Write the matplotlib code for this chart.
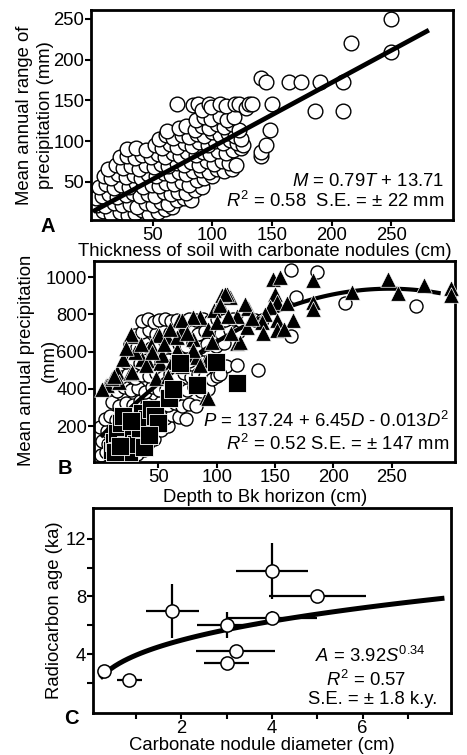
#!/usr/bin/env python3
"""Three-panel soil carbonate figure: nodule thickness, Bk depth, nodule size."""

import numpy as np
import matplotlib
matplotlib.use("Agg")
import matplotlib.pyplot as plt

plt.rcParams["font.family"] = ["Liberation Sans", "DejaVu Sans"]
plt.rcParams["mathtext.fontset"] = "custom"
plt.rcParams["mathtext.rm"] = "Liberation Sans"
plt.rcParams["mathtext.it"] = "Liberation Sans:italic"

FS = 13.3

# ---- panel A: thickness of soil with nodules (cm) vs range of precipitation (mm)
a_pts = [
    (8, 14), (15, 10), (22, 13), (29, 9), (35, 12), (41, 15), (47, 10), (54, 13),
    (60, 16), (66, 19),
    (3, 22), (10, 20), (17, 24), (24, 21), (31, 23), (37, 19), (44, 24), (50, 22),
    (57, 25), (63, 23), (70, 27), (76, 30), (82, 28),
    (2, 30), (7, 33), (13, 35), (20, 31), (27, 34), (33, 36), (39, 32), (46, 35),
    (52, 33), (59, 37), (65, 35), (71, 38), (78, 36), (85, 40), (91, 44),
    (5, 44), (11, 47), (17, 42), (23, 46), (30, 44), (36, 48), (42, 43), (49, 46),
    (55, 45), (61, 49), (68, 47), (74, 50), (80, 46), (87, 52), (93, 55), (100, 57),
    (9, 57), (15, 55), (21, 60), (27, 56), (34, 58), (40, 55), (46, 60), (53, 57),
    (59, 61), (65, 58), (72, 62), (78, 59), (84, 63), (90, 65), (97, 62), (104, 66),
    (110, 63), (116, 66),
    (12, 66), (19, 70), (25, 67), (32, 69), (38, 66), (44, 71), (51, 68), (57, 72),
    (63, 69), (70, 73), (76, 70), (82, 74), (89, 71), (95, 75), (101, 72), (108, 76),
    (114, 73), (120, 70),
    (22, 80), (28, 82), (35, 79), (41, 83), (48, 80), (54, 84), (60, 81), (67, 85),
    (73, 82), (79, 86), (86, 83), (92, 87), (98, 84), (105, 88), (111, 85),
    (117, 89), (124, 92),
    (28, 90), (36, 92), (44, 89), (52, 95), (58, 91), (64, 96), (70, 93), (77, 97),
    (83, 94), (89, 99), (96, 95), (102, 100), (109, 97), (115, 101), (121, 98),
    (126, 95),
    (55, 103), (61, 107), (67, 104), (74, 108), (80, 105), (87, 109), (93, 106),
    (100, 111), (106, 107), (113, 110), (119, 106), (124, 103),
    (62, 112), (72, 116), (78, 118), (85, 114), (91, 119), (97, 116), (104, 121),
    (110, 117), (116, 121), (122, 113),
    (86, 126), (93, 130), (99, 127), (106, 131), (112, 126), (118, 129),
    (70, 145), (84, 144), (88, 146), (91, 138), (97, 145), (99, 142), (106, 146),
    (111, 143), (119, 145), (122, 145), (128, 140), (131, 145), (133, 145),
    # scattered points beyond the main cloud
    (141, 82), (141, 87), (145, 95), (148, 113), (150, 145), (141, 178),
    (145, 173), (164, 173), (174, 173), (190, 173), (210, 173), (186, 137),
    (210, 137), (216, 221), (250, 250), (250, 210),
]
a_thick = [p[0] for p in a_pts]
a_range = [p[1] for p in a_pts]

# ---- panel B: depth to Bk horizon (cm) vs mean annual precipitation (mm)
b_circ_pts = [
    (1, 45), (5, 60), (9, 40), (14, 55), (20, 48), (26, 62), (32, 50), (38, 70),
    (2, 120), (7, 105), (12, 125), (17, 100), (23, 115), (29, 95), (35, 120),
    (41, 110), (46, 130),
    (0.5, 195), (6, 175), (11, 185), (16, 165), (22, 190), (28, 170), (34, 185),
    (40, 175), (46, 195), (52, 180), (58, 200),
    (4, 240), (9, 255), (14, 235), (20, 260), (26, 245), (32, 265), (38, 240),
    (44, 255), (50, 270), (56, 245), (62, 260), (68, 250), (74, 240),
    (10, 330), (16, 310), (22, 325), (28, 315), (34, 335), (40, 320), (46, 310),
    (52, 330), (58, 315), (64, 325), (70, 305), (76, 320), (82, 310),
    (15, 390), (21, 410), (27, 395), (33, 405), (39, 385), (45, 410), (51, 395),
    (57, 400), (63, 385), (69, 405), (75, 395), (81, 410), (87, 390), (93, 400),
    (18, 465), (24, 480), (30, 460), (36, 475), (42, 470), (48, 485), (54, 465),
    (60, 480), (66, 470), (72, 485), (78, 465), (84, 480), (90, 470), (96, 455),
    (100, 470),
    (22, 545), (28, 560), (34, 540), (40, 555), (46, 565), (52, 545), (58, 555),
    (64, 540), (70, 560), (76, 550), (82, 565), (88, 545), (94, 555), (101, 540),
    (108, 525),
    (26, 640), (32, 625), (38, 645), (44, 620), (50, 635), (56, 650), (62, 625),
    (68, 640), (74, 630), (80, 650), (86, 625), (92, 640), (99, 630), (106, 645),
    (30, 690), (36, 705), (42, 715), (48, 695), (54, 710), (60, 700), (66, 720),
    (72, 700), (78, 715), (84, 695), (90, 710), (97, 720), (104, 700), (111, 715),
    (118, 705),
    (36, 765), (41, 775), (46, 760), (51, 770), (56, 775), (61, 765), (66, 770),
    (71, 762), (76, 775), (82, 768), (88, 775), (94, 765), (100, 772), (107, 768),
    (114, 775), (121, 765), (127, 772), (133, 768), (139, 770),
    # outliers
    (164, 1036), (186, 1025), (168, 893), (210, 862), (271, 844), (164, 684),
    (135, 500), (117, 528), (103, 480),
]
b_circ_depth = [p[0] for p in b_circ_pts]
b_circ_prec = [p[1] for p in b_circ_pts]

b_tri_pts = [
    (148.5, 991), (154, 1000), (150, 910), (151.5, 866), (145.7, 839),
    (141.5, 803), (138.6, 759), (151.5, 768), (151.5, 714), (165.6, 768),
    (182.7, 982), (182.7, 866), (182.7, 830), (215.6, 920), (246.3, 988),
    (254.9, 916), (277.6, 955), (301, 940), (301, 905),
    (70.3, 716), (79.7, 666), (57.4, 680), (48.9, 689), (27.5, 684), (14.7, 492),
    (5.6, 421), (26.1, 484), (40.3, 555), (51.7, 537), (66, 609), (91.6, 555),
    (67.4, 770), (85.9, 787), (97.3, 823), (103, 859), (111.5, 894), (117.3, 791),
    (127.2, 832), (125.8, 734), (117.3, 644), (83.1, 573), (91, 358),
    (104.4, 903), (109, 910), (26.3, 696), (36.3, 562), (6.4, 419), (27.8, 491),
    (50.6, 687), (66.2, 678), (43.4, 634), (53.4, 580), (62, 544), (39.1, 527),
    (16.4, 437), (2.1, 401), (10.7, 460), (107, 910), (103, 848), (124, 856),
    (120, 652), (93, 723), (80, 786), (70, 770), (86, 527), (93, 348), (112, 700),
    (20, 560), (30, 600), (45, 600), (55, 640), (75, 700), (60, 720), (35, 640),
    (22, 620), (12, 470), (48, 460), (58, 470), (70, 520), (80, 610), (96, 650),
    (100, 760), (110, 790), (130, 780), (140, 700), (158, 720), (160, 860),
]
b_tri_depth = [p[0] for p in b_tri_pts]
b_tri_prec = [p[1] for p in b_tri_pts]

b_sq_pts = [
    (10, 70), (12, 115), (15, 165), (18, 215), (22, 100), (25, 62), (28, 140),
    (31, 105), (34, 190), (36, 270), (40, 240), (44, 290), (47, 255), (50, 215),
    (20, 255), (27, 225), (13, 60), (38, 85), (17, 95), (42, 150),
    (59, 350), (63, 400), (83, 421), (99, 546), (117, 430), (69, 537),
]
b_sq_depth = [p[0] for p in b_sq_pts]
b_sq_prec = [p[1] for p in b_sq_pts]

# ---- panel C: nodule diameter (cm) vs radiocarbon age (ka)
c_diam = [0.3, 0.85, 1.8, 4.0, 5.0, 4.0, 3.0, 3.2, 3.0]
c_age = [2.8, 2.2, 7.0, 9.8, 8.0, 6.5, 6.0, 4.2, 3.35]
c_diam_err = [0.15, 0.28, 0.58, 0.8, 1.07, 1.0, 0.66, 0.87, 0.49]
c_age_err = [0.0, 0.0, 1.9, 1.95, 0.4, 0.5, 0.9, 0.0, 0.2]

W, H = 467, 755


def box(left, top, right, bottom):
    return [left / W, 1 - bottom / H, (right - left) / W, (bottom - top) / H]


def style(ax):
    for s in ax.spines.values():
        s.set_linewidth(2.0)
    ax.tick_params(direction="out", length=4, width=1.5, labelsize=FS, pad=0.8)


fig = plt.figure(figsize=(W / 100, H / 100), dpi=100)

# ---------------- A
axA = fig.add_axes(box(91, 10, 453, 220))
axA.scatter(a_thick, a_range, s=112, facecolor="white", edgecolor="black",
            lw=1.0, zorder=2)
T = np.linspace(1.5, 280, 50)
axA.plot(T, 0.79 * T + 13.71, color="black", lw=3.4, zorder=3)
axA.set_xlim(-2, 302)
axA.set_ylim(3, 261)
axA.set_xticks([50, 100, 150, 200, 250])
axA.set_yticks([50, 100, 150, 200, 250])
style(axA)
axA.text(0.975, 0.185, r"$M$ = 0.79$T$ + 13.71", transform=axA.transAxes,
         ha="right", va="center", fontsize=FS)
axA.text(0.975, 0.092, r"$R^2$ = 0.58  S.E. = ± 22 mm", transform=axA.transAxes,
         ha="right", va="center", fontsize=FS)

# ---------------- B
axB = fig.add_axes(box(94, 261, 455, 462))
axB.scatter(b_circ_depth, b_circ_prec, s=88, facecolor="white",
            edgecolor="black", lw=1.0, zorder=2)
D = np.linspace(2, 290, 80)
axB.plot(D, 137.24 + 6.45 * D - 0.013 * D ** 2, color="black", lw=3.0, zorder=3)
axB.scatter(b_tri_depth, b_tri_prec, s=125, marker="^", facecolor="black",
            edgecolor="white", lw=0.5, zorder=4, clip_on=False)
axB.scatter(b_sq_depth, b_sq_prec, s=150, marker="s", facecolor="black",
            edgecolor="white", lw=0.6, zorder=5)
axB.set_xlim(-5, 304)
axB.set_ylim(7, 1086)
axB.set_xticks([50, 100, 150, 200, 250])
axB.set_yticks([200, 400, 600, 800, 1000])
style(axB)
axB.text(0.985, 0.205, r"$P$ = 137.24 + 6.45$D$ - 0.013$D^2$",
         transform=axB.transAxes, ha="right", va="center", fontsize=FS)
axB.text(0.985, 0.092, r"$R^2$ = 0.52 S.E. = ± 147 mm",
         transform=axB.transAxes, ha="right", va="center", fontsize=FS)

# ---------------- C
axC = fig.add_axes(box(93, 508, 451, 713))
axC.errorbar(c_diam, c_age, xerr=c_diam_err, yerr=c_age_err, fmt="none",
             ecolor="black", elinewidth=1.6, capsize=0, zorder=2)
S = np.linspace(0.25, 7.75, 80)
axC.plot(S, 3.92 * S ** 0.34, color="black", lw=3.6, zorder=3)
axC.plot(c_diam, c_age, "o", ms=9.5, mfc="white", mec="black", mew=1.1,
         zorder=4)
axC.set_xlim(0.05, 7.95)
axC.set_ylim(-0.1, 14.15)
axC.set_xticks(range(1, 8))
axC.set_xticklabels(["", "2", "", "4", "", "6", ""])
axC.set_yticks([2, 4, 6, 8, 10, 12])
axC.set_yticklabels(["", "4", "", "8", "", "12"])
style(axC)
axC.text(0.62, 0.28, r"$A$ = 3.92$S^{0.34}$", transform=axC.transAxes,
         ha="left", va="center", fontsize=FS)
axC.text(0.65, 0.16, r"$R^2$ = 0.57", transform=axC.transAxes,
         ha="left", va="center", fontsize=FS)
axC.text(0.60, 0.065, "S.E. = ± 1.8 k.y.", transform=axC.transAxes,
         ha="left", va="center", fontsize=FS)


# ---------------- labels
def ftext(px, py, s, size=FS, **kw):
    fig.text(px / W, 1 - py / H, s, fontsize=size, ha="center", va="center", **kw)


ftext(25, 115, "Mean annual range of", rotation=90)
ftext(46, 115, "precipitation (mm)", rotation=90)
ftext(27, 360, "Mean annual precipitation", rotation=90)
ftext(49, 360, "(mm)", rotation=90)
ftext(55, 610, "Radiocarbon age (ka)", rotation=90)
ftext(265, 251, "Thickness of soil with carbonate nodules (cm)")
ftext(265, 498, "Depth to Bk horizon (cm)")
ftext(262, 745, "Carbonate nodule diameter (cm)")
ftext(48, 227, "A", size=14.5, fontweight="bold")
ftext(65, 468, "B", size=14.5, fontweight="bold")
ftext(71, 719, "C", size=14.5, fontweight="bold")

fig.savefig("out.png", dpi=100)
